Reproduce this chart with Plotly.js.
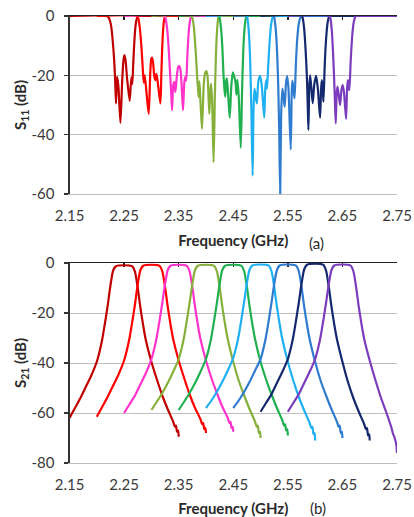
<!DOCTYPE html>
<html><head><meta charset="utf-8">
<script src="https://cdn.plot.ly/plotly-3.0.1.min.js"></script>
<style>html,body{margin:0;padding:0;background:#fff}#chart{width:414px;height:517px}</style>
</head><body><div id="chart"></div>
<script>
// ---------- data ----------
const filterNames = ["Filter 1","Filter 2","Filter 3","Filter 4","Filter 5","Filter 6","Filter 7","Filter 8","Filter 9"];
const filterColors = ["#C00000","#FF0000","#FF33CC","#86B03A","#20B050","#1EB0F0","#2E7BCF","#14286E","#7B3DBD"];

const xTickVals = [2.15,2.25,2.35,2.45,2.55,2.65,2.75];
const xTickText = ["2.15","2.25","2.35","2.45","2.55","2.65","2.75"];
const y11TickVals = [0,-20,-40,-60];
const y11TickText = ["0","-20","-40","-60"];
const y21TickVals = [0,-20,-40,-60,-80];
const y21TickText = ["0","-20","-40","-60","-80"];

// S11 (dB) per filter
const s11Freq1 = [2.150,2.218,2.222,2.226,2.229,2.2315,2.2335,2.2352,2.2372,2.2395,2.2433,2.2465,2.2488,2.2506,2.2527,2.2555,2.2603,2.2632,2.2650,2.2668,2.2690,2.2712,2.2735,2.2755,2.2800,2.3500];
const s11Val1  = [0,0,-0.6,-3,-8,-14,-21,-29.5,-20.5,-23.5,-36,-22,-15,-13.2,-15,-21,-28.6,-20.8,-23,-16,-8,-3,-0.8,0,0,0];
const s11Freq2 = [2.200,2.2735,2.2760,2.2785,2.2810,2.2832,2.2850,2.2863,2.2878,2.2912,2.2951,2.2980,2.2998,2.3012,2.3030,2.3055,2.3073,2.3092,2.3115,2.3165,2.3182,2.3200,2.3220,2.3238,2.3255,2.3300,2.4000];
const s11Val2  = [0,0,-0.8,-3.5,-8.5,-14.5,-20,-22.5,-20,-26,-33,-19,-14.5,-14,-15.5,-20.5,-21.6,-19.5,-22,-29.5,-20,-10,-3.5,-0.8,0,0,0];
const s11Freq3 = [2.250,2.3240,2.3262,2.3287,2.3312,2.3335,2.3358,2.3379,2.3400,2.3419,2.3440,2.3468,2.3492,2.3512,2.3532,2.3556,2.3580,2.3603,2.3622,2.3638,2.3658,2.3680,2.3702,2.3722,2.3740,2.3800,2.4500];
const s11Val3  = [0,0,-1,-4,-9.5,-17,-24,-31.8,-23.5,-22.2,-25.6,-20,-17.2,-16.9,-18,-24,-31.8,-22.5,-20.5,-21.8,-14,-6.5,-2.2,-0.5,0,0,0];
const s11Freq4 = [2.300,2.3735,2.3755,2.3780,2.3803,2.3822,2.3837,2.3852,2.3866,2.3880,2.3897,2.3927,2.3960,2.3985,2.4006,2.4027,2.4061,2.4077,2.4092,2.4112,2.4140,2.4163,2.4183,2.4203,2.4222,2.4240,2.4300,2.5000];
const s11Val4  = [0,0,-1,-4,-9.5,-15,-20,-24,-27.3,-22,-28,-38,-23,-19.2,-18.6,-20,-33,-26,-22.8,-28,-49.3,-27,-13,-5,-1.2,0,0,0];
const s11Freq5 = [2.350,2.4235,2.4255,2.4278,2.4300,2.4322,2.4340,2.4353,2.4370,2.4383,2.4405,2.4435,2.4465,2.4493,2.4520,2.4545,2.4558,2.4575,2.4600,2.4638,2.4662,2.4685,2.4708,2.4728,2.4745,2.4800,2.5500];
const s11Val5  = [0,0,-1,-4.5,-10.5,-20,-25,-27.2,-22,-21,-26,-34.3,-23.5,-19,-20.5,-23,-26.5,-21.5,-27,-44.4,-25,-11,-4,-1,0,0,0];
const s11Freq6 = [2.400,2.4745,2.4765,2.4788,2.4810,2.4832,2.4855,2.4872,2.4889,2.4910,2.4932,2.4960,2.4990,2.5020,2.5067,2.5085,2.5103,2.5118,2.5140,2.5165,2.5190,2.5215,2.5240,2.5300,2.6000];
const s11Val6  = [0,0,-1.5,-6,-15,-32,-53.8,-31,-24.5,-27,-29.5,-22,-20.2,-23,-34.3,-25,-21.6,-24.5,-17,-9,-3.5,-0.8,0,0,0];
const s11Freq7 = [2.450,2.5240,2.5260,2.5283,2.5305,2.5325,2.5343,2.5360,2.5378,2.5400,2.5420,2.5442,2.5465,2.5487,2.5510,2.5553,2.5570,2.5582,2.5600,2.5623,2.5648,2.5675,2.5705,2.5732,2.5756,2.5800,2.6500];
const s11Val7  = [0,0,-1.5,-5.5,-13,-24,-40,-60,-33,-24.5,-27,-30.6,-23,-20.3,-24,-45,-27,-21.8,-24,-27.8,-16,-7,-2.2,-0.5,0,0,0];
const s11Freq8 = [2.500,2.5756,2.5776,2.5800,2.5824,2.5848,2.5863,2.5877,2.5893,2.5908,2.5930,2.5955,2.5985,2.6018,2.6050,2.6091,2.6108,2.6122,2.6137,2.6152,2.6177,2.6202,2.6227,2.6247,2.6262,2.6300,2.7000];
const s11Val8  = [0,0,-1,-4.5,-11,-20,-29,-38.4,-24,-20,-24,-29.4,-23,-20.2,-24.5,-34.3,-25,-21.6,-24,-28.9,-16,-7.5,-2.5,-0.6,0,0,0];
const s11Freq9 = [2.550,2.6262,2.6282,2.6306,2.6330,2.6350,2.6365,2.6378,2.6395,2.6410,2.6435,2.6457,2.6482,2.6506,2.6530,2.6567,2.6584,2.6598,2.6612,2.6627,2.6652,2.6680,2.6708,2.6732,2.6750,2.6800,2.7500];
const s11Val9  = [0,0,-1,-5,-13,-22,-30,-36.2,-26,-23.8,-27,-30,-25,-23.3,-26,-34.7,-25,-21.6,-23,-25,-15,-6.5,-2,-0.4,0,0,0];

// S21 (dB) per filter
const s21Freq1 = [2.150,2.160,2.170,2.180,2.190,2.200,2.205,2.210,2.215,2.220,2.225,2.230,2.235,2.240,2.250,2.260,2.265,2.270,2.275,2.280,2.285,2.290,2.300,2.310,2.320,2.330,2.340,2.343,2.345,2.347,2.349,2.350];
const s21Val1  = [-62,-58,-54,-49.5,-45,-39.5,-35.5,-30.5,-24,-17,-9,-3,-1.3,-1.0,-0.9,-1.0,-1.3,-3.5,-10,-18,-25,-31,-39.5,-46.5,-53,-58.5,-63.5,-65.5,-65,-67.5,-67,-69.5];
const s21Freq2 = [2.200,2.210,2.220,2.230,2.240,2.250,2.255,2.260,2.265,2.270,2.275,2.280,2.285,2.290,2.300,2.310,2.315,2.320,2.325,2.330,2.335,2.340,2.350,2.360,2.370,2.380,2.390,2.393,2.395,2.397,2.399,2.400];
const s21Val2  = [-61.5,-57.5,-53.5,-49,-44.5,-39,-35,-30,-23.5,-16.5,-8.5,-2.8,-1.1,-0.8,-0.7,-0.8,-1.1,-3.3,-9.5,-17.5,-24.5,-30.5,-39,-46,-52.5,-58,-62.5,-64.5,-64,-66.5,-66,-68];
const s21Freq3 = [2.250,2.260,2.270,2.280,2.290,2.300,2.305,2.310,2.315,2.320,2.325,2.330,2.335,2.340,2.350,2.360,2.365,2.370,2.375,2.380,2.385,2.390,2.400,2.410,2.420,2.430,2.440,2.443,2.445,2.447,2.449,2.450];
const s21Val3  = [-60,-56.5,-53,-48.5,-44,-38.5,-34.5,-29.5,-23,-16,-8.5,-2.8,-1.1,-0.8,-0.7,-0.8,-1.1,-3.3,-9.5,-17.5,-24.5,-30.5,-39,-46,-52,-57.5,-62,-64,-63.5,-66,-65.5,-67.5];
const s21Freq4 = [2.300,2.310,2.320,2.330,2.340,2.350,2.355,2.360,2.365,2.370,2.375,2.380,2.385,2.390,2.400,2.410,2.415,2.420,2.425,2.430,2.435,2.440,2.450,2.460,2.470,2.480,2.490,2.493,2.495,2.497,2.499,2.500];
const s21Val4  = [-58.8,-55.5,-52,-48,-43.5,-38.5,-34.5,-29.5,-23,-16,-8.5,-2.8,-1.1,-0.8,-0.7,-0.8,-1.1,-3.3,-9.5,-17.5,-24.5,-30.5,-39.5,-47,-53,-58.5,-63.5,-65.5,-65,-68,-67.5,-70];
const s21Freq5 = [2.350,2.360,2.370,2.380,2.390,2.400,2.405,2.410,2.415,2.420,2.425,2.430,2.435,2.440,2.450,2.460,2.465,2.470,2.475,2.480,2.485,2.490,2.500,2.510,2.520,2.530,2.540,2.543,2.545,2.547,2.549,2.550];
const s21Val5  = [-58.8,-55.5,-52,-48,-43.5,-38.5,-34.5,-29.5,-23,-16,-8.5,-2.8,-1.1,-0.8,-0.7,-0.8,-1.1,-3.3,-9.5,-17.5,-24.5,-30.5,-39.5,-46.5,-52.5,-58,-63,-65,-64.5,-67,-66.5,-69];
const s21Freq6 = [2.400,2.410,2.420,2.430,2.440,2.450,2.455,2.460,2.465,2.470,2.475,2.480,2.485,2.490,2.500,2.510,2.515,2.520,2.525,2.530,2.535,2.540,2.550,2.560,2.570,2.580,2.590,2.593,2.595,2.597,2.599,2.600];
const s21Val6  = [-58,-55,-51.5,-47.5,-43,-38,-34,-29,-22.5,-15.5,-8,-2.6,-1.0,-0.7,-0.6,-0.7,-1.0,-3.2,-9.5,-17.5,-24.5,-30.5,-39.5,-47,-53.5,-59,-64,-66,-65.5,-68.5,-68,-71];
const s21Freq7 = [2.450,2.460,2.470,2.480,2.490,2.500,2.505,2.510,2.515,2.520,2.525,2.530,2.535,2.540,2.550,2.560,2.565,2.570,2.575,2.580,2.585,2.590,2.600,2.610,2.620,2.630,2.640,2.643,2.645,2.647,2.649,2.650];
const s21Val7  = [-58,-55,-51.5,-47.5,-43,-38.5,-34.5,-29.5,-23,-16,-8.5,-2.8,-1.0,-0.7,-0.6,-0.7,-1.0,-3.2,-9.5,-17.5,-24.5,-30.5,-39.5,-47,-53,-58.5,-63.5,-65.5,-65,-68,-67.5,-70];
const s21Freq8 = [2.500,2.510,2.520,2.530,2.540,2.550,2.555,2.560,2.565,2.570,2.575,2.580,2.585,2.590,2.600,2.610,2.615,2.620,2.625,2.630,2.635,2.640,2.650,2.660,2.670,2.680,2.690,2.693,2.695,2.697,2.699,2.700];
const s21Val8  = [-59.5,-56,-52.5,-48,-43.5,-38.5,-34.5,-29.5,-23,-16,-8.5,-2.5,-0.7,-0.4,-0.3,-0.4,-0.7,-3,-9.5,-17.5,-24.5,-30.5,-39.5,-47.5,-54,-59.5,-64.5,-66.5,-66,-69,-68.5,-71];
const s21Freq9 = [2.550,2.560,2.570,2.580,2.590,2.600,2.605,2.610,2.615,2.620,2.625,2.630,2.635,2.640,2.650,2.660,2.665,2.670,2.675,2.680,2.685,2.690,2.700,2.710,2.720,2.730,2.740,2.743,2.745,2.747,2.749,2.750];
const s21Val9  = [-59.5,-56,-52.5,-48,-43.5,-38.5,-34.5,-29.5,-23,-16,-8.5,-2.8,-1.0,-0.7,-0.6,-0.7,-1.0,-3.2,-9.5,-17.5,-24.5,-30.5,-39,-46.5,-53.5,-59.5,-66,-68.5,-69.5,-71,-73,-76];

// ---------- traces ----------
const s11F = [s11Freq1,s11Freq2,s11Freq3,s11Freq4,s11Freq5,s11Freq6,s11Freq7,s11Freq8,s11Freq9];
const s11V = [s11Val1,s11Val2,s11Val3,s11Val4,s11Val5,s11Val6,s11Val7,s11Val8,s11Val9];
const s21F = [s21Freq1,s21Freq2,s21Freq3,s21Freq4,s21Freq5,s21Freq6,s21Freq7,s21Freq8,s21Freq9];
const s21V = [s21Val1,s21Val2,s21Val3,s21Val4,s21Val5,s21Val6,s21Val7,s21Val8,s21Val9];

const traces = [];
for (let i = 0; i < 9; i++) {
  traces.push({x:s11F[i], y:s11V[i], xaxis:'x', yaxis:'y', type:'scatter', mode:'lines',
    name:filterNames[i]+' S11', line:{color:filterColors[i], width:2.2, shape:'spline', smoothing:0.7}, hoverinfo:'x+y'});
}
for (let i = 0; i < 9; i++) {
  traces.push({x:s21F[i], y:s21V[i], xaxis:'x2', yaxis:'y2', type:'scatter', mode:'lines',
    name:filterNames[i]+' S21', line:{color:filterColors[i], width:2.2, shape:'spline', smoothing:0.7}, hoverinfo:'x+y'});
}
// helpers so the top (0 dB) axis lines exist
traces.push({x:[2.15], y:[0], xaxis:'x3', yaxis:'y', type:'scatter', mode:'lines', showlegend:false, hoverinfo:'skip', line:{width:0}});
traces.push({x:[2.15], y:[0], xaxis:'x4', yaxis:'y2', type:'scatter', mode:'lines', showlegend:false, hoverinfo:'skip', line:{width:0}});

const FONT = 'Lato, "Open Sans", sans-serif';
const tickFont = {family:FONT, size:15, color:'#3a3a3a'};
const titleFont = {family:FONT, size:15, color:'#2a2a2a'};
const xDom = [69.5/414, 397/414];

function bottomX(anchor, standoff) {
  return {domain:xDom, anchor:anchor, range:[2.15,2.75], tickvals:xTickVals, ticktext:xTickText,
    ticks:'', showline:true, linecolor:'#bfbfbf', linewidth:1, showgrid:false, zeroline:false,
    tickfont:tickFont, ticklabelstandoff:8, fixedrange:true,
    title:{text:'<b>Frequency (GHz)</b>', font:titleFont, standoff:standoff}};
}
function topX(over, anchor) {
  return {overlaying:over, anchor:anchor, side:'top', range:[2.15,2.75], tickvals:xTickVals,
    showticklabels:false, ticks:'inside', ticklen:4, tickwidth:1.5, tickcolor:'#222',
    showline:true, linecolor:'#222', linewidth:1.5, layer:'below traces',
    showgrid:false, zeroline:false, fixedrange:true};
}
function leftY(dom, anchor, rng, tv, tt, title) {
  return {domain:dom, anchor:anchor, range:rng, tickvals:tv, ticktext:tt,
    showgrid:true, gridcolor:'#bfbfbf', gridwidth:1, zeroline:false,
    showline:true, linecolor:'#333', linewidth:2, ticks:'outside', ticklen:4, tickcolor:'#333', tickwidth:1.5,
    tickfont:tickFont, ticklabelstandoff:6, fixedrange:true,
    title:{text:title, font:titleFont, standoff:1}};
}

const layout = {
  width:414, height:517, margin:{l:0,r:0,t:0,b:0},
  paper_bgcolor:'#fff', plot_bgcolor:'#fff', showlegend:false,
  font:{family:FONT},
  xaxis: bottomX('y', 12),
  xaxis2: bottomX('y2', 12),
  xaxis3: topX('x','y'),
  xaxis4: topX('x2','y2'),
  yaxis: leftY([(517-194)/517,(517-16)/517], 'x', [-60,0], y11TickVals, y11TickText, '<b>S<sub>11</sub> (dB)</b>'),
  yaxis2: leftY([(517-463)/517,(517-263)/517], 'x2', [-80,0], y21TickVals, y21TickText, '<b>S<sub>21</sub> (dB)</b>'),
  annotations:[
    {text:'(a)', xref:'paper', yref:'paper', x:316/414, y:1-243/517, showarrow:false, xanchor:'center', yanchor:'middle', font:{family:FONT, size:15, color:'#2a2a2a'}},
    {text:'(b)', xref:'paper', yref:'paper', x:318/414, y:1-508/517, showarrow:false, xanchor:'center', yanchor:'middle', font:{family:FONT, size:15, color:'#2a2a2a'}}
  ]
};

Plotly.newPlot('chart', traces, layout, {displayModeBar:false, staticPlot:true});
</script>
</body></html>
